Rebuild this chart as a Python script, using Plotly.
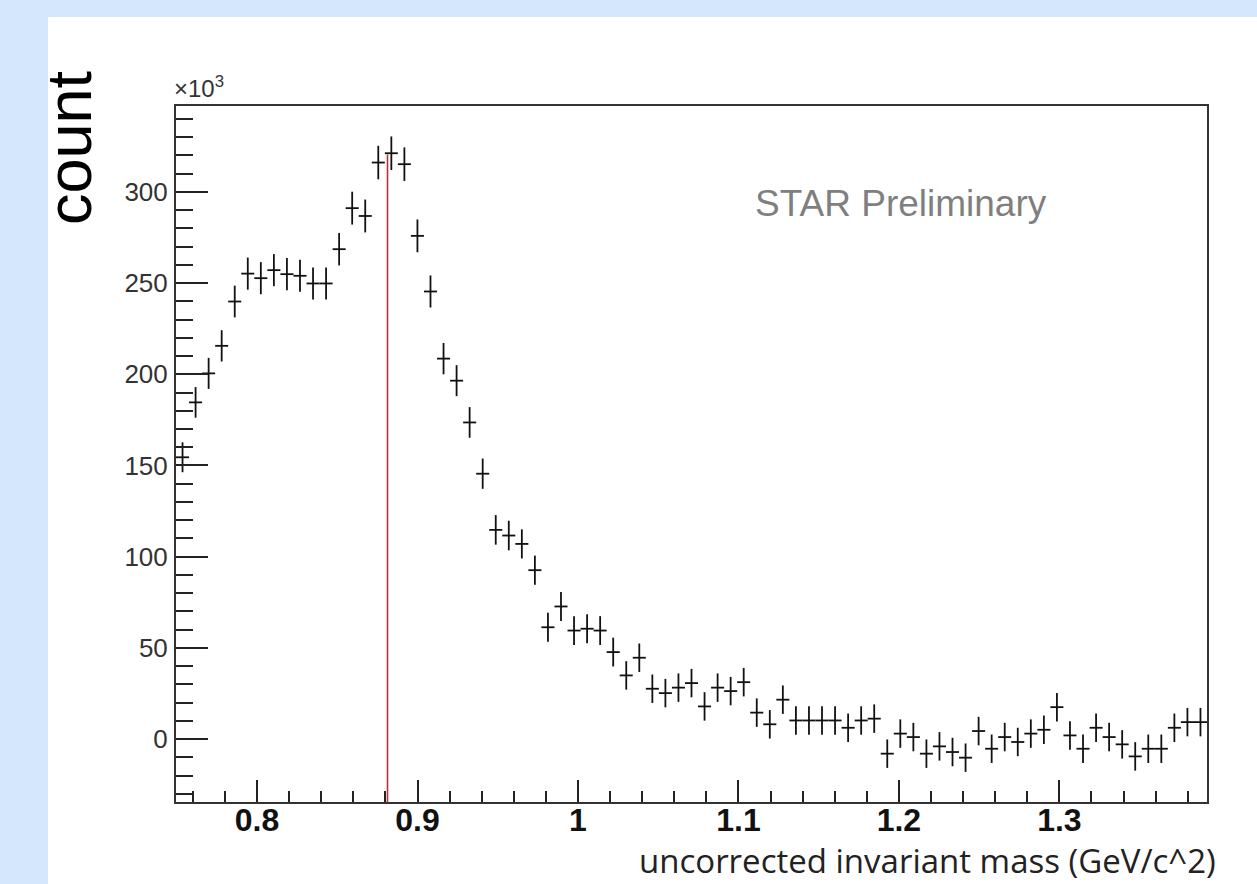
import numpy as np
import plotly.graph_objects as go

# ---- data (counts in units of 10^3) ----
mass_lo = 0.7495
mass_hi = 1.3920
n_bins = 79

counts_k = [
    154.5, 184.6, 200.5, 215.6, 239.9, 255.2, 252.7, 257.1, 254.9, 254.0,
    249.8, 249.8, 268.6, 291.1, 286.8, 316.1, 321.2, 315.2, 275.9, 245.4,
    208.6, 196.5, 173.6, 145.5, 114.7, 111.6, 107.0, 92.6, 61.3, 72.7,
    59.5, 60.5, 59.5, 47.7, 34.9, 44.6, 27.6, 25.2, 28.2, 30.7,
    17.9, 28.2, 26.3, 31.2, 14.5, 8.1, 21.6, 10.2, 10.2, 10.2,
    10.2, 6.2, 10.2, 11.2, -8.0, 3.0, 1.1, -8.0, -4.0, -7.1,
    -10.2, 4.4, -5.3, 1.1, -1.6, 3.0, 5.1, 17.5, 2.0, -5.3,
    6.2, 1.1, -2.9, -9.5, -5.3, -5.3, 6.2, 9.3, 9.3,
]

errors_k = [
    8.2, 8.4, 8.5, 8.6, 8.7, 8.8, 8.8, 8.8, 8.8, 8.8,
    8.8, 8.8, 8.9, 9.0, 9.0, 9.2, 9.2, 9.2, 9.0, 8.8,
    8.6, 8.5, 8.4, 8.3, 8.1, 8.1, 8.0, 8.0, 7.9, 7.9,
    7.9, 7.9, 7.9, 7.9, 7.8, 7.8, 7.8, 7.8, 7.8, 7.8,
    7.8, 7.8, 7.8, 7.8, 7.8, 7.8, 7.8, 7.8, 7.8, 7.8,
    7.8, 7.8, 7.8, 7.8, 7.8, 7.8, 7.8, 7.8, 7.8, 7.8,
    7.8, 7.8, 7.8, 7.8, 7.8, 7.8, 7.8, 7.8, 7.8, 7.8,
    7.8, 7.8, 7.8, 7.8, 7.8, 7.8, 7.8, 7.8, 7.8,
]

peak_mass = 0.8813
peak_height_k = 320.5

y_lo, y_hi = -34.5, 347.1
x_tickvals = [0.8, 0.9, 1.0, 1.1, 1.2, 1.3]
x_ticktext = ["0.8", "0.9", "1", "1.1", "1.2", "1.3"]
y_tickvals = [0, 50, 100, 150, 200, 250, 300]

# ---- build ----
edges = np.linspace(mass_lo, mass_hi, n_bins + 1)
centers = 0.5 * (edges[:-1] + edges[1:])
half_w = 0.5 * (edges[1] - edges[0])

W, H = 1257, 884
L, R, T, B = 176, 50, 106, 82
pw, ph = W - L - R, H - T - B


def px2x(px):
    return (px - L) / pw


def py2y(py):
    return (H - B - py) / ph


fig = go.Figure()
fig.add_trace(go.Scatter(
    x=centers, y=counts_k, mode="markers",
    marker=dict(size=1, color="rgba(0,0,0,0)"),
    error_y=dict(type="data", array=errors_k, visible=True, width=0,
                 thickness=1.8, color="#111111"),
    error_x=dict(type="constant", value=half_w, visible=True, width=0,
                 thickness=1.8, color="#111111"),
    showlegend=False, hoverinfo="x+y",
))

axis_font = "Liberation Sans, Arial, sans-serif"

fig.update_layout(
    width=W, height=H,
    margin=dict(l=L, r=R, t=T, b=B),
    paper_bgcolor="#d5e7fc",
    plot_bgcolor="white",
    xaxis=dict(
        range=[mass_lo, mass_hi], tickvals=x_tickvals, ticktext=x_ticktext,
        ticks="inside", ticklen=22, tickwidth=2, tickcolor="#222",
        showline=True, mirror=True, linecolor="#333", linewidth=2,
        showgrid=False, zeroline=False,
        tickfont=dict(family=axis_font, size=32, color="#111", weight="bold"),
        ticklabelstandoff=-11,
        minor=dict(dtick=0.02, tick0=0.8, ticks="inside", ticklen=11,
                   tickwidth=2, tickcolor="#222", showgrid=False),
    ),
    yaxis=dict(
        range=[y_lo, y_hi], tickvals=y_tickvals,
        ticks="inside", ticklen=32, tickwidth=2, tickcolor="#222",
        showline=True, mirror=True, linecolor="#333", linewidth=2,
        showgrid=False, zeroline=False,
        tickfont=dict(family=axis_font, size=26, color="#333"),
        ticklabelstandoff=1,
        minor=dict(dtick=10, tick0=0, ticks="inside", ticklen=17,
                   tickwidth=2, tickcolor="#222", showgrid=False),
    ),
    shapes=[
        dict(type="rect", xref="paper", yref="paper",
             x0=px2x(48), x1=px2x(W + 5), y0=py2y(17), y1=py2y(H + 5),
             fillcolor="white", line=dict(width=0), layer="below"),
        dict(type="line", xref="x", yref="y",
             x0=peak_mass, x1=peak_mass, y0=y_lo, y1=peak_height_k,
             line=dict(color="#b83232", width=1.6), layer="below"),
    ],
    annotations=[
        dict(text="STAR Preliminary", xref="paper", yref="paper",
             x=px2x(753), y=py2y(203), xanchor="left", yanchor="middle",
             showarrow=False,
             font=dict(family=axis_font, size=37, color="#7f7f7f")),
        dict(text="uncorrected invariant mass (GeV/c^2)", xref="paper",
             yref="paper", x=px2x(1217), y=py2y(861), xanchor="right",
             yanchor="middle", showarrow=False, borderpad=0,
             font=dict(family="Open Sans, sans-serif", size=33,
                       color="#222")),
        dict(text="count", xref="paper", yref="paper", x=px2x(69),
             y=py2y(148), xanchor="center", yanchor="middle",
             textangle=-90, showarrow=False,
             font=dict(family=axis_font, size=63, color="black")),
        dict(text="\u00d710<sup>3</sup>", xref="paper", yref="paper",
             x=px2x(173), y=py2y(103), xanchor="left", yanchor="bottom",
             showarrow=False, borderpad=0,
             font=dict(family=axis_font, size=24, color="#333")),
    ],
)

fig.write_html(
    "out.html",
    config={"displayModeBar": False},
    post_script="document.body.style.margin='0';"
                "document.body.style.overflow='hidden';",
)
